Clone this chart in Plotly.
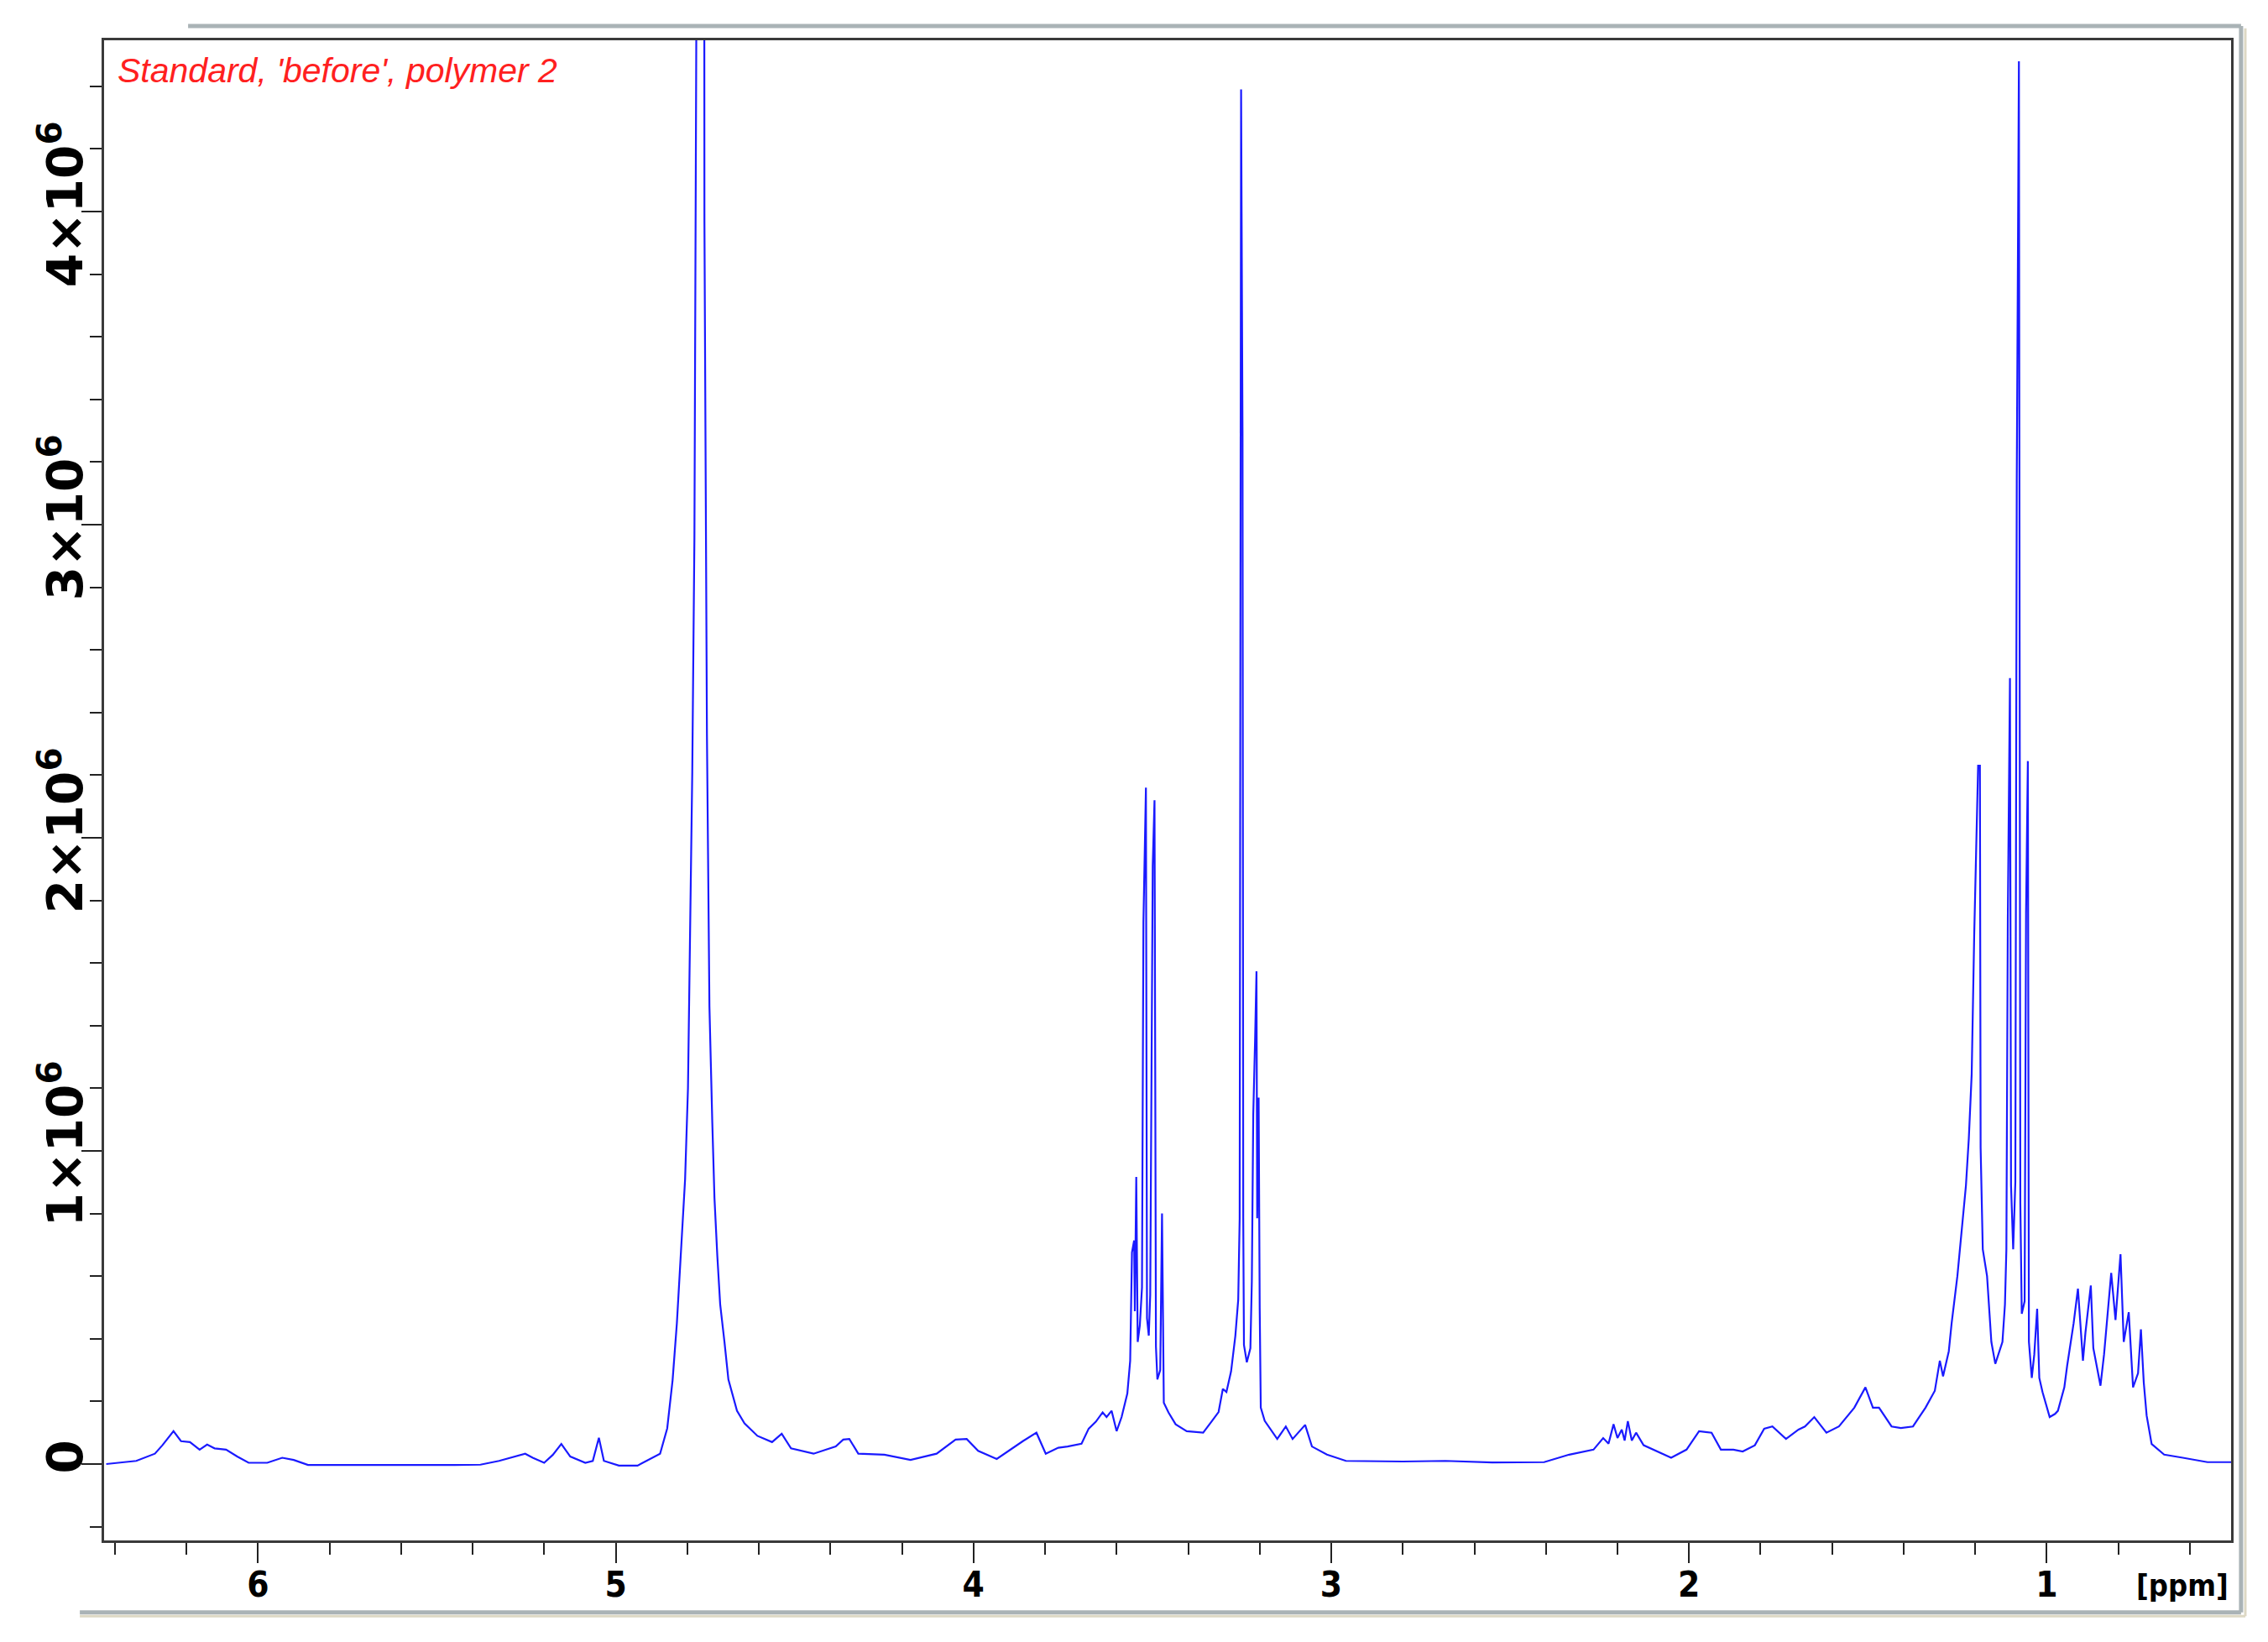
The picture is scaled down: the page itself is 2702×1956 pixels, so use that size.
import plotly.graph_objects as go

# chemical shift (ppm) and intensity (x 1e6)
ppm = [
    6.424, 6.34, 6.288, 6.267, 6.236, 6.215, 6.19, 6.163, 6.142, 6.121, 6.089,
    6.058, 6.026, 5.974, 5.932, 5.90, 5.86, 5.70, 5.584, 5.45, 5.378, 5.326,
    5.284, 5.253, 5.232, 5.20, 5.176, 5.152, 5.127, 5.085, 5.064, 5.047, 5.033,
    4.991, 4.939, 4.876, 4.856, 4.841, 4.829, 4.821, 4.813, 4.806, 4.798, 4.792,
    4.786, 4.780, 4.774, 4.770, 4.753, 4.752, 4.745, 4.738, 4.730, 4.724, 4.716,
    4.708, 4.696, 4.685, 4.661, 4.64, 4.604, 4.563, 4.536, 4.510, 4.447, 4.385,
    4.364, 4.347, 4.322, 4.249, 4.176, 4.103, 4.050, 4.019, 3.987, 3.935, 3.862,
    3.824, 3.798, 3.763, 3.737, 3.717, 3.698, 3.678, 3.658, 3.639, 3.628, 3.614,
    3.600, 3.586, 3.570, 3.562, 3.557, 3.551, 3.549, 3.545, 3.541, 3.535, 3.529,
    3.525, 3.518, 3.515, 3.510, 3.506, 3.499, 3.494, 3.490, 3.486, 3.478, 3.473,
    3.468, 3.455, 3.435, 3.404, 3.358, 3.335, 3.315, 3.303, 3.293, 3.280, 3.268,
    3.260, 3.256, 3.252, 3.248, 3.246, 3.244, 3.236, 3.226, 3.222, 3.218, 3.213,
    3.209, 3.207, 3.203, 3.200, 3.197, 3.186, 3.170, 3.151, 3.127, 3.108, 3.073,
    3.054, 3.012, 2.959, 2.80, 2.681, 2.55, 2.405, 2.335, 2.267, 2.240, 2.225,
    2.211, 2.200, 2.188, 2.180, 2.171, 2.160, 2.148, 2.127, 2.050, 2.007, 1.972,
    1.937, 1.911, 1.876, 1.850, 1.816, 1.790, 1.767, 1.729, 1.694, 1.676, 1.650,
    1.616, 1.581, 1.538, 1.507, 1.486, 1.469, 1.434, 1.408, 1.374, 1.339, 1.313,
    1.299, 1.290, 1.274, 1.266, 1.250, 1.238, 1.226, 1.218, 1.210, 1.203, 1.192,
    1.187, 1.185, 1.179, 1.167, 1.155, 1.144, 1.124, 1.117, 1.113, 1.109, 1.103,
    1.100, 1.094, 1.088, 1.084, 1.078, 1.074, 1.070, 1.062, 1.058, 1.053, 1.050,
    1.042, 1.035, 1.027, 1.021, 1.012, 0.992, 0.977, 0.969, 0.951, 0.943, 0.925,
    0.913, 0.899, 0.892, 0.877, 0.870, 0.850, 0.840, 0.820, 0.808, 0.794, 0.785,
    0.771, 0.759, 0.745, 0.737, 0.729, 0.721, 0.707, 0.672, 0.620, 0.551, 0.485,
]
intensity = [
    0.000, 0.010, 0.033, 0.060, 0.105, 0.073, 0.070, 0.046, 0.062, 0.050, 0.046,
    0.024, 0.004, 0.004, 0.020, 0.013, -0.003, -0.004, -0.003, -0.003, -0.002, 0.010,
    0.024, 0.033, 0.020, 0.004, 0.029, 0.064, 0.024, 0.004, 0.010, 0.084, 0.010,
    -0.005, -0.005, 0.033, 0.114, 0.268, 0.45, 0.60, 0.756, 0.91, 1.20, 1.66,
    2.21, 2.96, 4.28, 6.0, 6.0, 3.97, 2.33, 1.46, 1.09, 0.85, 0.665,
    0.51, 0.39, 0.27, 0.17, 0.13, 0.09, 0.070, 0.097, 0.050, 0.033, 0.056,
    0.078, 0.080, 0.033, 0.030, 0.013, 0.033, 0.078, 0.080, 0.042, 0.016, 0.073,
    0.100, 0.033, 0.052, 0.056, 0.060, 0.065, 0.113, 0.135, 0.165, 0.150, 0.170,
    0.105, 0.150, 0.225, 0.330, 0.676, 0.714, 0.488, 0.917, 0.390, 0.443, 0.564,
    1.73, 2.16, 0.466, 0.410, 0.540, 1.91, 2.12, 0.375, 0.270, 0.300, 0.800,
    0.196, 0.165, 0.127, 0.105, 0.100, 0.135, 0.166, 0.240, 0.230, 0.296, 0.410,
    0.525, 0.785, 4.39, 3.28, 0.785, 0.380, 0.325, 0.370, 0.584, 1.115, 1.35,
    1.574, 0.785, 1.17, 0.497, 0.180, 0.138, 0.110, 0.080, 0.120, 0.080, 0.125,
    0.056, 0.030, 0.010, 0.008, 0.010, 0.005, 0.006, 0.030, 0.046, 0.083, 0.065,
    0.127, 0.083, 0.110, 0.075, 0.137, 0.075, 0.100, 0.060, 0.020, 0.046, 0.105,
    0.100, 0.046, 0.046, 0.040, 0.060, 0.113, 0.120, 0.080, 0.110, 0.120, 0.150,
    0.100, 0.120, 0.180, 0.245, 0.180, 0.180, 0.120, 0.115, 0.120, 0.180, 0.234,
    0.330, 0.280, 0.36, 0.45, 0.60, 0.745, 0.89, 1.04, 1.245, 1.686, 2.23,
    2.23, 1.01, 0.686, 0.60, 0.39, 0.32, 0.39, 0.51, 0.686, 1.745, 2.51,
    0.89, 0.686, 0.90, 3.14, 4.48, 0.834, 0.48, 0.52, 1.76, 2.245, 0.39,
    0.275, 0.35, 0.496, 0.275, 0.23, 0.15, 0.16, 0.17, 0.245, 0.315, 0.45,
    0.56, 0.33, 0.42, 0.57, 0.37, 0.25, 0.35, 0.61, 0.46, 0.67, 0.39,
    0.485, 0.245, 0.29, 0.43, 0.26, 0.155, 0.064, 0.030, 0.020, 0.006, 0.006,
]

y_ticks = [0, 1e6, 2e6, 3e6, 4e6]
y_ticktext = ["0", "1×10<sup>6</sup>", "2×10<sup>6</sup>", "3×10<sup>6</sup>", "4×10<sup>6</sup>"]
x_ticks = [1, 2, 3, 4, 5, 6]

narrow = "Liberation Sans Narrow, Arial Narrow, DejaVu Sans Condensed, sans-serif"

fig = go.Figure()
fig.add_trace(
    go.Scatter(
        x=ppm,
        y=[v * 1e6 for v in intensity],
        mode="lines",
        line=dict(color="#1a1aff", width=2.2),
        showlegend=False,
        hoverinfo="skip",
    )
)

axis_line = dict(showline=True, linecolor="#3a3a3a", linewidth=3, mirror=True,
                 showgrid=False, zeroline=False)

fig.update_xaxes(
    **axis_line,
    range=[6.43, 0.485],
    tickvals=x_ticks,
    ticks="outside",
    ticklen=24,
    tickwidth=2,
    tickcolor="#222",
    tickfont=dict(family=narrow, size=42, color="black", weight="bold"),
    ticklabelstandoff=-10,
    minor=dict(dtick=0.2, tick0=0, ticks="outside", ticklen=14, tickwidth=2, tickcolor="#222"),
)
fig.update_yaxes(
    **axis_line,
    range=[-0.244e6, 4.547e6],
    tickvals=y_ticks,
    ticktext=y_ticktext,
    tickangle=-90,
    ticks="outside",
    ticklen=24,
    tickwidth=2,
    tickcolor="#222",
    tickfont=dict(family="DejaVu Sans", size=58, color="black", weight="bold"),
    ticklabelstandoff=-24,
    minor=dict(dtick=2e5, tick0=0, ticks="outside", ticklen=14, tickwidth=2, tickcolor="#222"),
)

fig.add_annotation(
    text="Standard, 'before', polymer 2",
    xref="paper", yref="paper", x=0.0055, y=0.98,
    xanchor="left", yanchor="middle", showarrow=False,
    font=dict(family="Liberation Sans, Arial, sans-serif", size=41, color="#ff2020", style="italic"),
)
fig.add_annotation(
    text="[ppm]",
    xref="x", yref="paper", x=0.62, y=-0.03,
    xanchor="center", yanchor="middle", showarrow=False,
    font=dict(family=narrow, size=36, color="black", weight="bold"),
)

# window border around the screenshot
frame = "#aab3b6"
fig.add_shape(type="line", xref="paper", yref="paper", x0=0.0395, x1=1.0047, y0=1.0095, y1=1.0095,
              line=dict(color=frame, width=5))
fig.add_shape(type="line", xref="paper", yref="paper", x0=1.0047, x1=1.0047, y0=1.0095, y1=-0.048,
              line=dict(color=frame, width=5))
fig.add_shape(type="line", xref="paper", yref="paper", x0=-0.0114, x1=1.0047, y0=-0.048, y1=-0.048,
              line=dict(color=frame, width=5))
fig.add_shape(type="line", xref="paper", yref="paper", x0=-0.0114, x1=1.0067, y0=-0.0505, y1=-0.0505,
              line=dict(color="#ddd8c4", width=3))
fig.add_shape(type="line", xref="paper", yref="paper", x0=1.0067, x1=1.0067, y0=1.008, y1=-0.0505,
              line=dict(color="#ddd8c4", width=3))

# page body adds an 8 px margin, so the figure is 16 px smaller than the window
fig.update_layout(
    width=2686,
    height=1940,
    paper_bgcolor="white",
    plot_bgcolor="white",
    margin=dict(l=116, r=36, t=40, b=113),
    showlegend=False,
)

fig.write_html("out.html")
